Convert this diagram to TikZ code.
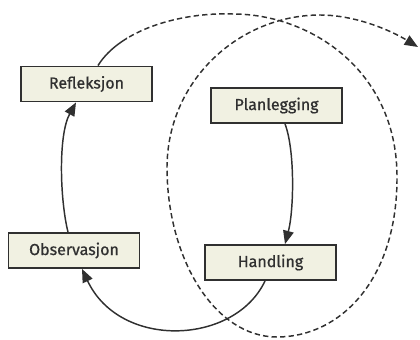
\documentclass[tikz,border=0pt]{standalone}
\usepackage{fontspec}
\setmainfont{Fira Sans}
\newfontfamily\boxfont{Fira Sans}[FakeBold=0.7]
\usetikzlibrary{arrows.meta}
\definecolor{boxfill}{HTML}{F1F1E2}
\definecolor{ink}{HTML}{303030}
\tikzset{
  stagebox/.style={draw=ink, fill=boxfill, line width=1.4pt, minimum width=98.25pt, minimum height=26.25pt, inner sep=0pt, text=ink, font=\boxfont\fontsize{12}{14}\selectfont},
  conn/.style={draw=ink, line width=1.1pt, -{Triangle[length=10pt,width=8pt]}},
}
\begin{document}
\begin{tikzpicture}[x=0.75pt,y=-0.75pt]
\useasboundingbox (0,0) rectangle (420,339);
\node[stagebox] (refl) at (86.5,84) {Refleksjon};
\node[stagebox] (plan) at (276.5,105.5) {Planlegging};
\node[stagebox] (obs) at (74,250.5) {Observasjon};
\node[stagebox] (hand) at (270.5,262.5) {Handling};
\coordinate (end) at (418,47);
% spiral: solid start, dashed remainder
\def\spiralpath{(refl.north -| 98,0) .. controls (120,30) and (180,12) .. (233,14)
  .. controls (310,14) and (396,70) .. (397,175)
  .. controls (398,280) and (340,337) .. (277,337)
  .. controls (215,337) and (168,260) .. (167,170)
  .. controls (166,80) and (240,15) .. (320,15)
  .. controls (355,15) and (390,30) .. (end)}
\begin{scope}
\clip (0,0) rectangle (127,339);
\draw[draw=ink, line width=1.1pt] \spiralpath;
\end{scope}
\begin{scope}
\clip (127,-10) rectangle (430,345);
\draw[conn, dash pattern=on 4pt off 2.4pt] \spiralpath;
\end{scope}
\draw[conn] (obs.north -| 68,0) .. controls (60,200) and (58,135) .. (refl.south -| 76,0);
\draw[conn] (plan.south -| 285,0) .. controls (295,150) and (294,210) .. (hand.north -| 285,0);
\draw[conn] (hand.south -| 265,0) .. controls (235,345) and (120,350) .. (obs.south -| 82,0);
\end{tikzpicture}
\end{document}
